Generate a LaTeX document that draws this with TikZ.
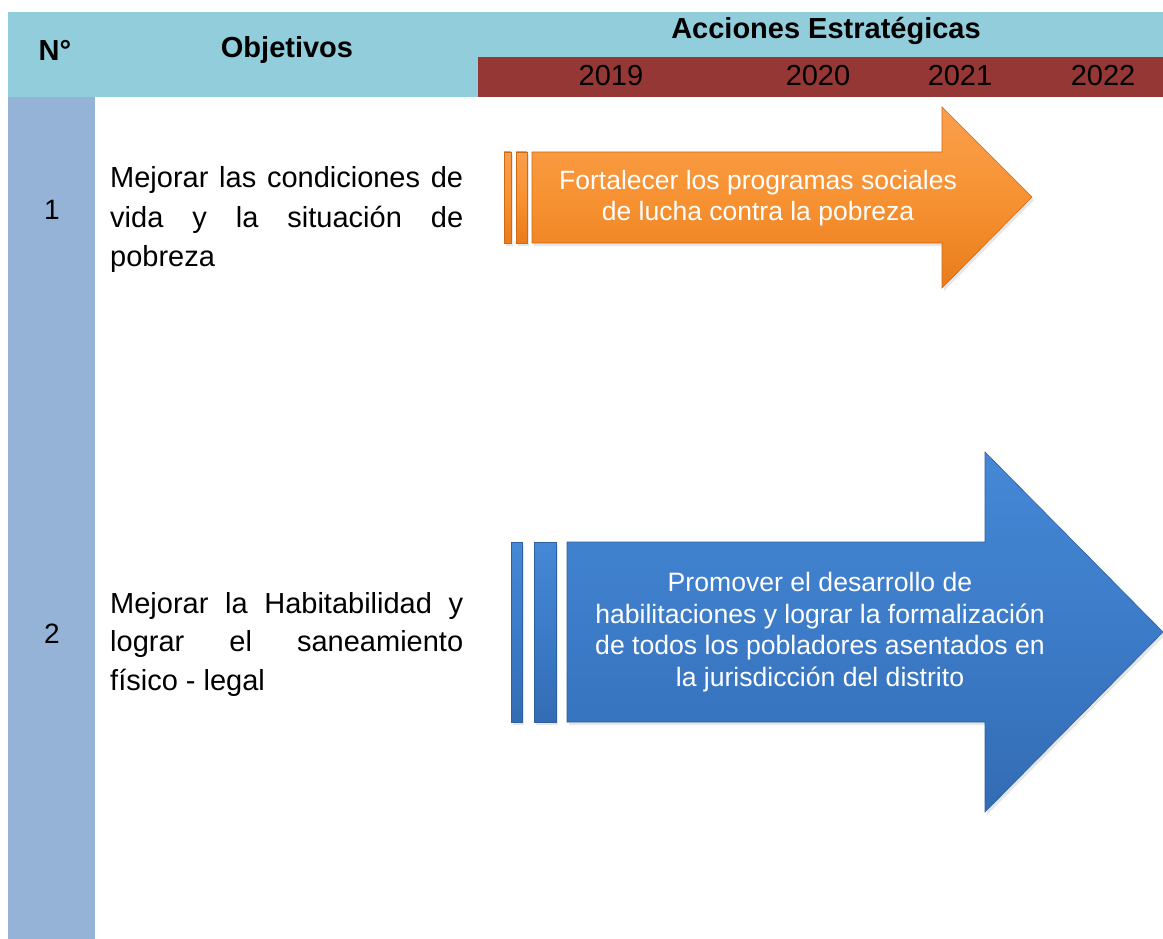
\documentclass[tikz,border=0pt]{standalone}
\usepackage{fontspec}
\setmainfont{Liberation Sans}
\usetikzlibrary{shadows}
\definecolor{hdrblue}{HTML}{92CDDC}
\definecolor{hdrred}{HTML}{953735}
\definecolor{colblue}{HTML}{95B3D7}
\definecolor{orTop}{HTML}{FA9F4E}
\definecolor{orMid}{HTML}{F79232}
\definecolor{orBot}{HTML}{E97C1C}
\definecolor{orEdge}{HTML}{D06A12}
\definecolor{blTop}{HTML}{4588D5}
\definecolor{blMid}{HTML}{3C7BC8}
\definecolor{blBot}{HTML}{336CB4}
\definecolor{blEdge}{HTML}{2D609F}
\tikzset{
  hdrtext/.style={font=\fontsize{29}{32}\selectfont\bfseries, inner sep=0pt},
  yeartext/.style={font=\fontsize{29}{32}\selectfont, inner sep=0pt},
  bodytext/.style={font=\fontsize{29}{39}\selectfont, inner sep=0pt, anchor=base west},
  orfill/.style={top color=orTop, bottom color=orBot, middle color=orMid, draw=orEdge, line width=0.6pt,
     drop shadow={shadow xshift=2pt, shadow yshift=-3pt, opacity=0.2}},
  blfill/.style={top color=blTop, bottom color=blBot, middle color=blMid, draw=blEdge, line width=0.6pt,
     drop shadow={shadow xshift=2pt, shadow yshift=-3pt, opacity=0.2}},
  arrtext/.style={font=\fontsize{26.5}{30.5}\selectfont, text=white, align=center, inner sep=0pt},
}
\begin{document}
\begin{tikzpicture}[x=1pt,y=-1pt]
\useasboundingbox (0,0) rectangle (1163,939);
% header
\fill[hdrblue] (8,12) rectangle (1163,97);
\fill[hdrred] (478,57) rectangle (1163,97);
\fill[colblue] (8,97) rectangle (95,939);
\node[hdrtext] (hn) at (55,50) {N°};
\node[hdrtext] (ho) at (287,50) {Objetivos};
\node[hdrtext] (ha) at (826,31) {Acciones Estratégicas};
\node[yeartext] (y19) at (611,76) {2019};
\node[yeartext] (y20) at (818,76) {2020};
\node[yeartext] (y21) at (960,76) {2021};
\node[yeartext] (y22) at (1103,76) {2022};
% numbers
\node[font=\fontsize{28}{32}\selectfont, inner sep=0pt] (n1) at (52,210) {1};
\node[font=\fontsize{28}{32}\selectfont, inner sep=0pt] (n2) at (52,634) {2};
% objectives
\node[bodytext] (o1a) at (110,188) {\makebox[353pt][s]{Mejorar las condiciones de}};
\node[bodytext] (o1b) at (110,227) {\makebox[353pt][s]{vida y la situación de}};
\node[bodytext] (o1c) at (110,266) {pobreza};
\node[bodytext] (o2a) at (110,613) {\makebox[353pt][s]{Mejorar la Habitabilidad y}};
\node[bodytext] (o2b) at (110,651) {\makebox[353pt][s]{lograr el saneamiento}};
\node[bodytext] (o2c) at (110,690) {físico - legal};
% orange arrow
\path[orfill] (504,152) rectangle (511,243);
\path[orfill] (516,152) rectangle (527,243);
\path[orfill] (532,152) -- (942,152) -- (942,107) -- (1032,197) -- (942,288) -- (942,243) -- (532,243) -- cycle;
\node[arrtext] (a1) at (758,198) {Fortalecer los programas sociales\\de lucha contra la pobreza};
% blue arrow
\path[blfill] (511,542) rectangle (522,722);
\path[blfill] (534,542) rectangle (556,722);
\path[blfill] (567,542) -- (985,542) -- (985,452) -- (1163,632) -- (985,812) -- (985,722) -- (567,722) -- cycle;
\node[arrtext, font=\fontsize{26.6}{31.7}\selectfont] (a2) at (820,632) {Promover el desarrollo de\\habilitaciones y lograr la formalización\\de todos los pobladores asentados en\\la jurisdicción del distrito};
\end{tikzpicture}
\end{document}
